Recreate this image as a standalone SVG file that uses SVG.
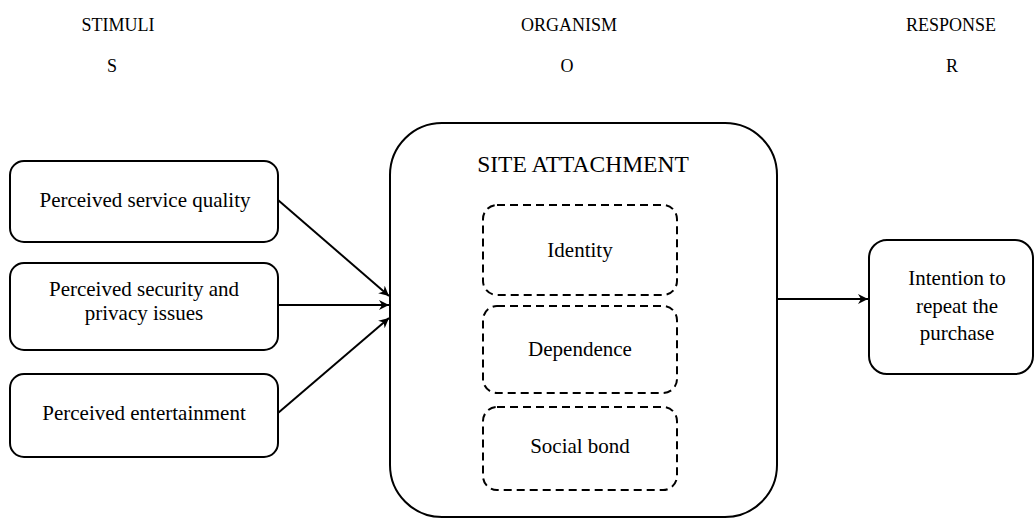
<svg xmlns="http://www.w3.org/2000/svg" width="1035" height="519" viewBox="0 0 1035 519">
<style>
text{font-family:"Liberation Serif","Times New Roman",serif;fill:#000;text-anchor:middle}
.hd{font-size:18px}
.t{font-size:21px}
.ti{font-size:23.5px}
.box{fill:#fff;stroke:#000;stroke-width:2}
.dash{fill:none;stroke:#000;stroke-width:2;stroke-dasharray:8 5}
.conn{stroke:#000;stroke-width:2;fill:none}
</style>
<defs>
<marker id="ah" viewBox="0 0 10 10" refX="10" refY="5" markerWidth="5" markerHeight="5" orient="auto" markerUnits="strokeWidth">
<path d="M0,0 L10,5 L0,10 L3,5 z" fill="#000"/>
</marker>
</defs>
<rect width="1035" height="519" fill="#fff"/>
<g id="headers" font-family="Liberation Serif, serif">
<text class="hd" x="118" y="31">STIMULI</text>
<text class="hd" x="112" y="72">S</text>
<text class="hd" x="569" y="31">ORGANISM</text>
<text class="hd" x="567" y="72">O</text>
<text class="hd" x="951" y="31">RESPONSE</text>
<text class="hd" x="952" y="72">R</text>
</g>
<g id="n-service" font-family="Liberation Serif, serif">
<rect class="box" x="10" y="161" width="268" height="81" rx="14"/>
<text class="t" x="145" y="207">Perceived service quality</text>
</g>
<g id="n-security" font-family="Liberation Serif, serif">
<rect class="box" x="10" y="263" width="268" height="87" rx="14"/>
<text class="t" x="144" y="296">Perceived security and</text>
<text class="t" x="144" y="320">privacy issues</text>
</g>
<g id="n-entertainment" font-family="Liberation Serif, serif">
<rect class="box" x="10" y="374" width="268" height="83" rx="14"/>
<text class="t" x="144" y="420">Perceived entertainment</text>
</g>
<g id="n-site" font-family="Liberation Serif, serif">
<rect class="box" x="390" y="123" width="387" height="394" rx="52"/>
<text class="ti" x="583" y="172">SITE ATTACHMENT</text>
</g>
<g id="n-identity" font-family="Liberation Serif, serif">
<rect class="dash" x="483" y="205" width="194" height="90" rx="14"/>
<text class="t" x="580" y="257">Identity</text>
</g>
<g id="n-dependence" font-family="Liberation Serif, serif">
<rect class="dash" x="483" y="306" width="194" height="87" rx="14"/>
<text class="t" x="580" y="356">Dependence</text>
</g>
<g id="n-social" font-family="Liberation Serif, serif">
<rect class="dash" x="483" y="407" width="194" height="83" rx="14"/>
<text class="t" x="580" y="453">Social bond</text>
</g>
<g id="n-intention" font-family="Liberation Serif, serif">
<rect class="box" x="869" y="240" width="164" height="134" rx="18"/>
<text class="t" x="957" y="285">Intention to</text>
<text class="t" x="957" y="313">repeat the</text>
<text class="t" x="957" y="340">purchase</text>
</g>
<g id="connectors">
<line class="conn" x1="278" y1="200" x2="389" y2="296" marker-end="url(#ah)"/>
<line class="conn" x1="278" y1="305" x2="389" y2="305" marker-end="url(#ah)"/>
<line class="conn" x1="278" y1="413" x2="389" y2="318" marker-end="url(#ah)"/>
<line class="conn" x1="777" y1="299" x2="868" y2="299" marker-end="url(#ah)"/>
</g>
</svg>
